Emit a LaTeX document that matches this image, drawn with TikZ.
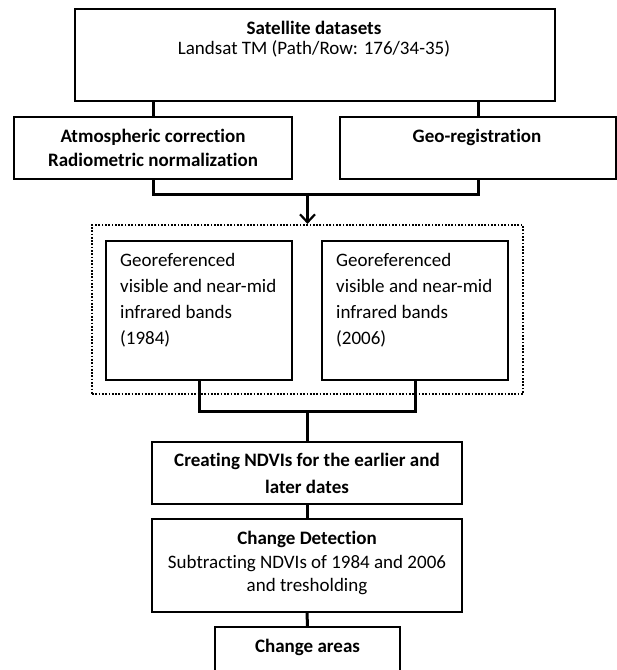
\documentclass[tikz,border=0pt]{standalone}
\usepackage{fontspec}
\setmainfont{Carlito}[Ligatures=NoCommon]
\usetikzlibrary{arrows.meta}
\begin{document}
\begin{tikzpicture}[x=1pt,y=-1pt,
  box/.style={draw=black,line width=2pt,rectangle,inner sep=0pt,fill=none},
  conn/.style={draw=black,line width=3pt},
  arr/.style={draw=black,line width=2.2pt,-{Straight Barb[length=8pt,width=15pt]}},
  dotbox/.style={draw=black,line width=2.2pt,dash pattern=on 1.7pt off 1.6pt,rectangle,inner sep=0pt},
  txt/.style={inner sep=0pt,anchor=north,align=center},
  ltxt/.style={inner sep=0pt,anchor=north west,align=left}]
\useasboundingbox (0,0) rectangle (617,670);
\fill[white] (0,0) rectangle (617,670);
% boxes (centre, width, height)
\node[box,minimum width=480pt,minimum height=92pt] (sat) at (315,55) {};
\node[box,minimum width=278pt,minimum height=62pt] (atm) at (153,148) {};
\node[box,minimum width=276pt,minimum height=62pt] (geo) at (478,148) {};
\node[dotbox,minimum width=431pt,minimum height=169pt] (dots) at (307.5,309.5) {};
\node[box,minimum width=186pt,minimum height=139pt] (b84) at (199,310.5) {};
\node[box,minimum width=186pt,minimum height=139pt] (b06) at (415,310.5) {};
\node[box,minimum width=310pt,minimum height=62pt] (ndvi) at (307,473) {};
\node[box,minimum width=310pt,minimum height=93pt] (chg) at (307,565.5) {};
\node[box,minimum width=185pt,minimum height=56pt] (area) at (307.5,655) {};
% texts
\node[txt,font=\fontsize{19}{20}\selectfont] (satT) at (314,21)
  {\textbf{Satellite datasets}\\Landsat TM (Path/Row: 176/34-35)};
\node[txt,font=\fontsize{19}{24}\selectfont\bfseries] (atmT) at (153,129)
  {Atmospheric correction\\Radiometric normalization};
\node[txt,font=\fontsize{19}{24}\selectfont\bfseries] (geoT) at (477,129)
  {Geo-registration};
\node[ltxt,font=\fontsize{19}{26}\selectfont] (b84T) at (120,253)
  {Georeferenced\\visible and near-mid\\infrared bands\\(1984)};
\node[ltxt,font=\fontsize{19}{26}\selectfont] (b06T) at (336,253)
  {Georeferenced\\visible and near-mid\\infrared bands\\(2006)};
\node[txt,font=\fontsize{19}{27}\selectfont\bfseries] (ndviT) at (307,453)
  {Creating NDVIs for the earlier and\\later dates};
\node[txt,font=\fontsize{19}{23.5}\selectfont] (chgT) at (307,531)
  {\textbf{Change Detection}\\Subtracting NDVIs of 1984 and 2006\\and tresholding};
\node[txt,font=\fontsize{19}{20}\selectfont\bfseries] (areaT) at (307.5,639)
  {Change areas};
% connectors
\coordinate (j1) at (307.5,194);
\coordinate (j2) at (307,411);
\draw[conn] (atm.north) -- (atm.north |- sat.south);
\draw[conn] (geo.north) -- (geo.north |- sat.south);
\draw[conn] (atm.south) |- (j1) -| (geo.south);
\draw[arr] (j1) -- (dots.north);
\draw[conn] (b84.south) |- (j2) -| (b06.south);
\draw[conn] (j2) -- (ndvi.north);
\draw[conn] (ndvi.south) -- (chg.north);
\draw[conn] (chg.south) -- (area.north);
\end{tikzpicture}
\end{document}
